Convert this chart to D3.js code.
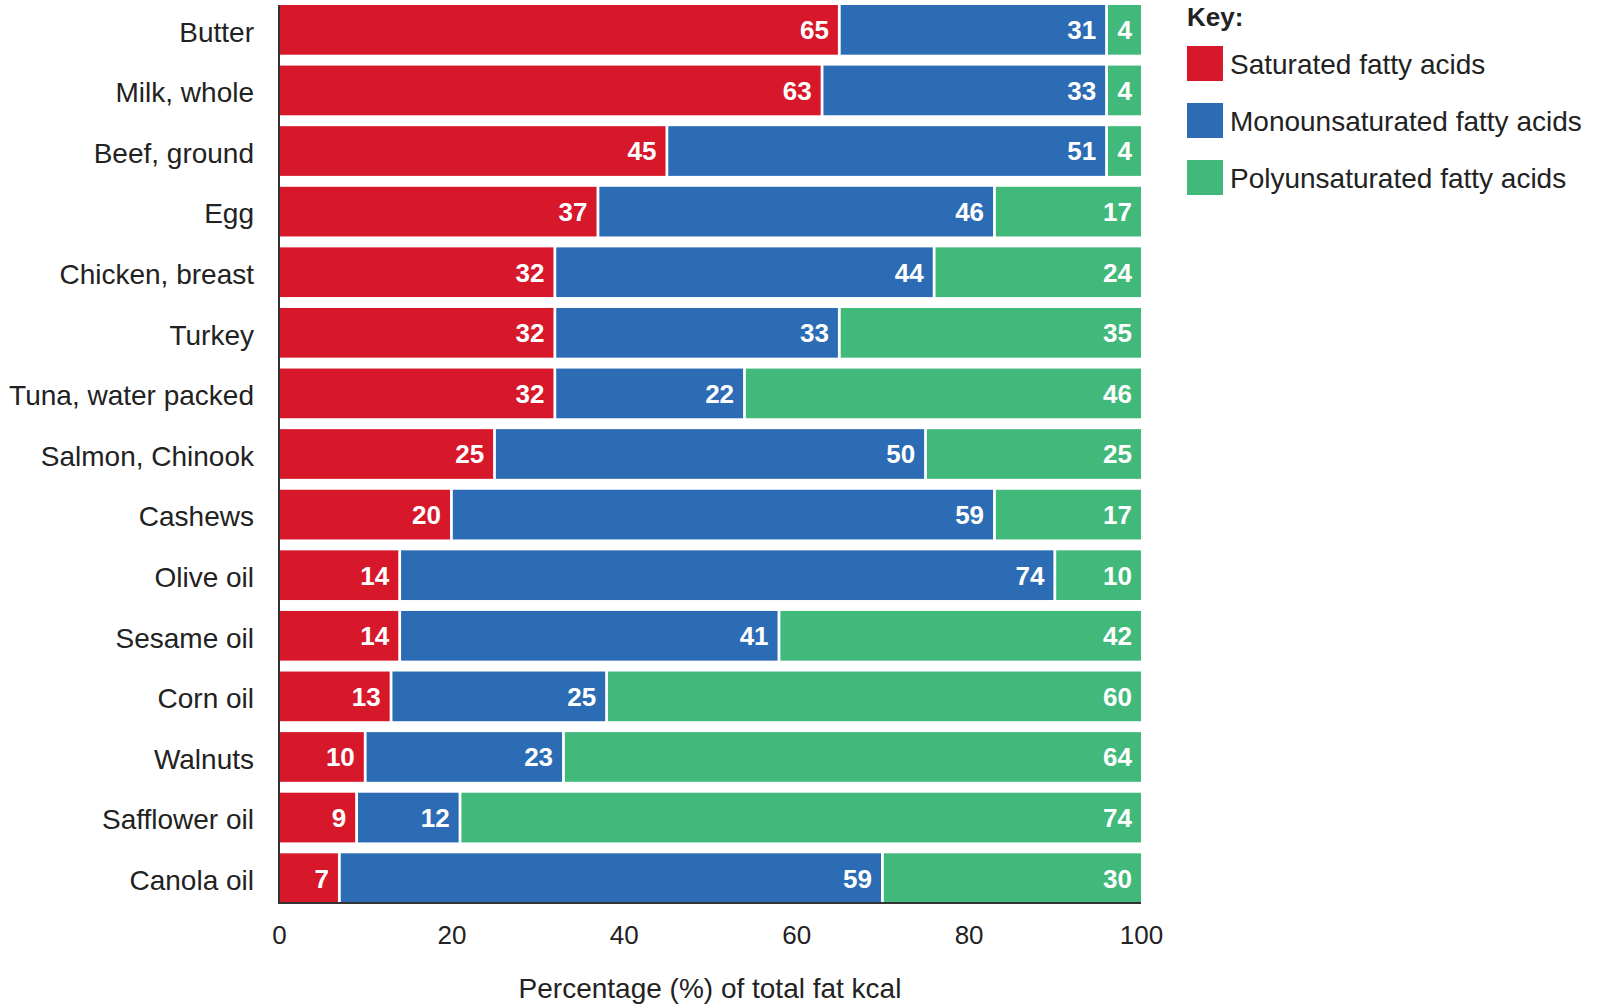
<!DOCTYPE html>
<html>
<head>
<meta charset="utf-8">
<script src="https://cdn.jsdelivr.net/npm/d3@7"></script>
<style>
  html, body { margin: 0; padding: 0; background: #fff; }
  svg { display: block; }
</style>
</head>
<body>
<svg id="chart" width="1604" height="1004"></svg>
<script>
const categories = ["Butter", "Milk, whole", "Beef, ground", "Egg", "Chicken, breast", "Turkey",
  "Tuna, water packed", "Salmon, Chinook", "Cashews", "Olive oil", "Sesame oil", "Corn oil",
  "Walnuts", "Safflower oil", "Canola oil"];
// printed values (labels on the segments)
const saturatedLabels       = [65, 63, 45, 37, 32, 32, 32, 25, 20, 14, 14, 13, 10, 9, 7];
const monounsaturatedLabels = [31, 33, 51, 46, 44, 33, 22, 50, 59, 74, 41, 25, 23, 12, 59];
const polyunsaturatedLabels = [4, 4, 4, 17, 24, 35, 46, 25, 17, 10, 42, 60, 64, 74, 30];
// segment lengths as drawn in the picture (% of bar)
const saturated       = [65, 63, 45, 37, 32, 32, 32, 25, 20, 14, 14, 13, 10, 9, 7];
const monounsaturated = [31, 33, 51, 46, 44, 33, 22, 50, 63, 76, 44, 25, 23, 12, 63];
const polyunsaturated = [4, 4, 4, 17, 24, 35, 46, 25, 17, 10, 42, 62, 67, 79, 30];
const seriesNames = ["Saturated fatty acids", "Monounsaturated fatty acids", "Polyunsaturated fatty acids"];
const seriesColors = ["#d7182a", "#2b6cb4", "#41b97a"];
const xTicks = [0, 20, 40, 60, 80, 100];
const xTitle = "Percentage (%) of total fat kcal";
const keyTitle = "Key:";

(function () {
const keys = ["s0", "s1", "s2"];
const labelArrays = [saturatedLabels, monounsaturatedLabels, polyunsaturatedLabels];
const rows = categories.map((c, i) => ({
  cat: c, idx: i, s0: saturated[i], s1: monounsaturated[i], s2: polyunsaturated[i]
}));
const stacked = d3.stack().keys(keys)(rows);

const svg = d3.select("#chart");
const mLeft = 279, mRight = 1141, mTop = 5, mBottom = 903;

const x = d3.scaleLinear().domain([0, 100]).range([mLeft, mRight]);
const y = d3.scaleBand().domain(categories).range([mTop, mBottom]).paddingInner(0.18).paddingOuter(0);

const gap = 1.4;
const g = svg.append("g");
stacked.forEach((layer, li) => {
  const lg = g.append("g");
  lg.selectAll("rect").data(layer).join("rect")
    .attr("x", d => x(d[0]) + (li > 0 ? gap : 0))
    .attr("y", d => y(d.data.cat))
    .attr("width", d => x(d[1]) - x(d[0]) - (li > 0 ? gap : 0) - (li < keys.length - 1 ? gap : 0))
    .attr("height", y.bandwidth())
    .attr("fill", seriesColors[li]);
  lg.selectAll("text").data(layer).join("text")
    .attr("x", d => x(d[1]) - (li < keys.length - 1 ? gap : 0) - 9)
    .attr("y", d => y(d.data.cat) + y.bandwidth() / 2)
    .attr("dy", "0.36em")
    .attr("text-anchor", "end")
    .attr("fill", "#fff")
    .style("font-family", "'Liberation Sans', Arial, sans-serif")
    .style("font-weight", "bold")
    .style("font-size", "26px")
    .text(d => labelArrays[li][d.data.idx]);
});

// category axis
const yAxis = svg.append("g").attr("transform", `translate(${mLeft},0)`)
  .call(d3.axisLeft(y).tickSize(0).tickPadding(25));
yAxis.select(".domain").remove();
yAxis.selectAll("text")
  .style("font-family", "'Liberation Sans', Arial, sans-serif")
  .style("font-size", "28px")
  .attr("fill", "#222")
  .attr("dy", "0.42em");

// frame lines
svg.append("line").attr("x1", mLeft).attr("x2", mLeft).attr("y1", mTop).attr("y2", mBottom + 1)
  .attr("stroke", "#333").attr("stroke-width", 2);
svg.append("line").attr("x1", mLeft - 1).attr("x2", mRight).attr("y1", mBottom).attr("y2", mBottom)
  .attr("stroke", "#333").attr("stroke-width", 2);

// x axis
const xAxis = svg.append("g").attr("transform", `translate(0,${mBottom})`)
  .call(d3.axisBottom(x).tickValues(xTicks).tickSize(0).tickPadding(23).tickFormat(d3.format("d")));
xAxis.select(".domain").remove();
xAxis.selectAll("text")
  .style("font-family", "'Liberation Sans', Arial, sans-serif")
  .style("font-size", "26px")
  .attr("fill", "#222");

svg.append("text")
  .attr("x", (mLeft + mRight) / 2).attr("y", 998)
  .attr("text-anchor", "middle")
  .style("font-family", "'Liberation Sans', Arial, sans-serif")
  .style("font-size", "28px")
  .attr("fill", "#222")
  .text(xTitle);

// legend
const lx = 1187;
svg.append("text").attr("x", lx).attr("y", 26)
  .style("font-family", "'Liberation Sans', Arial, sans-serif")
  .style("font-size", "26px").style("font-weight", "bold")
  .attr("fill", "#222").text(keyTitle);
const leg = svg.append("g").selectAll("g").data(seriesNames).join("g")
  .attr("transform", (d, i) => `translate(${lx},${46 + i * 57})`);
leg.append("rect").attr("width", 36).attr("height", 35).attr("fill", (d, i) => seriesColors[i]);
leg.append("text").attr("x", 43).attr("y", 17.5).attr("dy", "0.36em")
  .style("font-family", "'Liberation Sans', Arial, sans-serif")
  .style("font-size", "28px")
  .attr("fill", "#222").text(d => d);
})();
</script>
</body>
</html>
